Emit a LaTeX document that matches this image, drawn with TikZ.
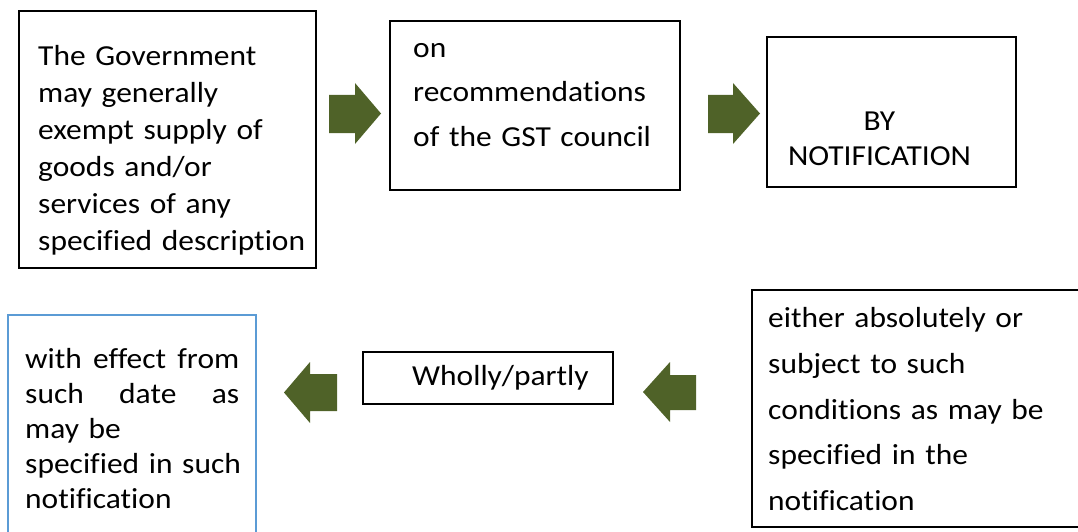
\documentclass[tikz,border=0pt]{standalone}
\usepackage{fontspec}
\setmainfont{Carlito}[FakeStretch=1.085, Ligatures={NoCommon}]
\definecolor{arrowgreen}{HTML}{4F6228}
\definecolor{boxblue}{HTML}{5B9BD5}
\newcommand{\fullline}[1]{\leavevmode\hbox to 214pt{#1}}
\begin{document}
\begin{tikzpicture}[x=1pt,y=-1pt,
  box/.style={draw=black, line width=1.3pt, inner sep=0pt, fill=none},
  bluebox/.style={draw=boxblue, line width=1.3pt, inner sep=0pt},
  txt/.style={inner sep=0pt, font=\fontsize{29}{37}\selectfont},
  blockarrow/.style={fill=arrowgreen, draw=none}]
\useasboundingbox (0,0) rectangle (1078,532);
\begin{scope}
\clip (0,0) rectangle (1078,532);
% boxes
\node[box, minimum width=297pt, minimum height=257pt] (b1) at (167.5,139.5) {};
\node[box, minimum width=290pt, minimum height=169pt] (b2) at (535,105.5) {};
\node[box, minimum width=249pt, minimum height=150pt] (b3) at (891.5,112) {};
\node[box, minimum width=338pt, minimum height=237pt] (b4) at (921,408.5) {};
\node[box, minimum width=250pt, minimum height=52pt] (b5) at (488,378) {};
\node[bluebox, minimum width=248pt, minimum height=230pt] (b6) at (132,430) {};
\end{scope}
% texts
\node[txt, anchor=base west, align=left, text width=280pt] (t1) at (38,65.5)
  {The Government\\may generally\\exempt supply of\\goods and/or\\services of any\\specified description};
\node[txt, anchor=base west, align=left, text width=270pt, font=\fontsize{29}{44.5}\selectfont] (t2) at (413,57.5)
  {on\\recommendations\\of the GST council};
\node[txt, anchor=base, align=center, text width=230pt, font=\fontsize{29}{35}\selectfont] (t3) at (879.5,131)
  {BY\\NOTIFICATION};
\node[txt, anchor=base west, align=left, text width=300pt, font=\fontsize{29}{45.8}\selectfont] (t4) at (768,327.5)
  {either absolutely or\\subject to such\\conditions as may be\\specified in the\\notification};
\node[txt, anchor=base west] (t5) at (412,385.5) {Wholly/partly};
\node[txt, anchor=base west, align=left, text width=240pt, font=\fontsize{29}{35}\selectfont] (t6) at (25,368.8)
  {\fullline{with\hfill effect\hfill from}\\\fullline{such\hfill date\hfill as}\\may be\\specified in such\\notification};
% block arrows
\fill[blockarrow] (329,95) -- (355,95) -- (355,83) -- (381,113.5) -- (355,144) -- (355,133) -- (329,133) -- cycle;
\fill[blockarrow] (708,95) -- (733,95) -- (733,83) -- (760,113.5) -- (733,144) -- (733,133) -- (708,133) -- cycle;
\fill[blockarrow] (696,375) -- (670,375) -- (670,362) -- (643,392) -- (670,422) -- (670,410) -- (696,410) -- cycle;
\fill[blockarrow] (337,374) -- (310,374) -- (310,362) -- (284,392.5) -- (310,423) -- (310,411) -- (337,411) -- cycle;
\end{tikzpicture}
\end{document}
